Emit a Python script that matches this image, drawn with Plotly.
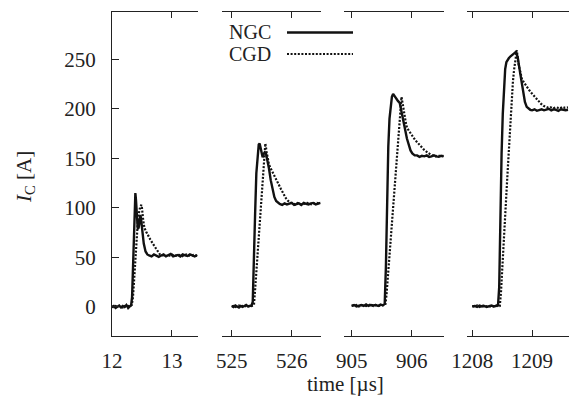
import plotly.graph_objects as go

# ---------------- data ----------------
# panel 1 (around 12 us)
t_ngc1 = [12.00, 12.03, 12.06, 12.09, 12.12, 12.15, 12.18, 12.21, 12.24, 12.27,
          12.30, 12.32, 12.335, 12.35, 12.365, 12.38, 12.39, 12.40, 12.415, 12.43,
          12.445, 12.46, 12.475, 12.49, 12.51, 12.53, 12.56, 12.59, 12.62, 12.66,
          12.70, 12.74, 12.78, 12.82, 12.86, 12.90, 12.94, 12.98, 13.02, 13.06,
          13.10, 13.14, 13.18, 13.22, 13.26, 13.30, 13.34, 13.38, 13.42]
i_ngc1 = [0, 1, -1, 0.5, 1.5, -0.5, 1, 0, 2, -1,
          1, 2, 10, 45, 85, 110, 115, 108, 90, 79,
          80, 90, 93, 86, 74, 64, 56, 53, 52, 51,
          53, 52, 50.5, 52, 53, 51, 52, 53.5, 51, 52,
          52.5, 51, 53, 52, 51.5, 53, 52, 51, 52.5]
t_cgd1 = [12.00, 12.03, 12.06, 12.09, 12.12, 12.15, 12.18, 12.21, 12.24, 12.27,
          12.30, 12.33, 12.35, 12.37, 12.39, 12.41, 12.43, 12.45, 12.47, 12.49,
          12.50, 12.52, 12.54, 12.57, 12.60, 12.64, 12.68, 12.72, 12.76, 12.80,
          12.84, 12.88, 12.92, 12.96, 13.00, 13.04, 13.08, 13.12, 13.16, 13.20,
          13.24, 13.28, 13.32, 13.36, 13.40, 13.43]
i_cgd1 = [0.5, -0.5, 1, 0, 1, 0.5, -0.5, 1, 0, 1,
          0.5, 2, 10, 28, 50, 70, 85, 95, 101, 103,
          100, 88, 80, 76, 72, 68, 64, 60, 56, 53,
          52, 52.5, 51, 52, 53, 51.5, 52, 52.5, 51, 52,
          53, 52, 51.5, 52.5, 52, 51.5]

# panel 2 (around 525 us)
t_ngc2 = [525.00, 525.03, 525.06, 525.09, 525.12, 525.15, 525.18, 525.21, 525.24, 525.27,
          525.30, 525.33, 525.35, 525.37, 525.39, 525.41, 525.43, 525.45, 525.465, 525.48,
          525.50, 525.515, 525.53, 525.55, 525.57, 525.59, 525.62, 525.65, 525.68, 525.71,
          525.74, 525.77, 525.80, 525.84, 525.88, 525.92, 525.96, 526.00, 526.04, 526.08,
          526.12, 526.16, 526.20, 526.24, 526.28, 526.32, 526.36, 526.40, 526.44, 526.48]
i_ngc2 = [1, 0, 1.5, 0.5, -0.5, 1, 0, 1, 2, 0.5,
          1, 1.5, 5, 40, 95, 135, 155, 164, 165, 160,
          153, 151, 154, 156, 155, 150, 140, 128, 118, 111,
          107, 105, 104, 103, 104.5, 103.5, 104, 105, 103, 104,
          104.5, 103, 105, 104, 103.5, 104.5, 105, 103.5, 104, 105]
t_cgd2 = [525.00, 525.03, 525.06, 525.09, 525.12, 525.15, 525.18, 525.21, 525.24, 525.27,
          525.30, 525.33, 525.37, 525.39, 525.41, 525.43, 525.45, 525.47, 525.49, 525.51,
          525.53, 525.545, 525.56, 525.58, 525.60, 525.62, 525.64, 525.67, 525.70, 525.74,
          525.78, 525.82, 525.86, 525.90, 525.94, 525.98, 526.02, 526.06, 526.10, 526.14,
          526.18, 526.22, 526.26, 526.30, 526.34, 526.38, 526.42, 526.47]
i_cgd2 = [0.5, 1, 0, 1, 1.5, 0, 1, 0.5, 1, 0,
          1.5, 1, 2, 18, 36, 54, 72, 90, 108, 126,
          145, 158, 165, 157, 149, 144, 141, 137, 134, 129,
          124, 119, 114, 110, 107, 105, 104.5, 103.5, 105, 104,
          103, 104.5, 105, 104, 103.5, 104.5, 105, 104]

# panel 3 (around 905 us)
t_ngc3 = [905.00, 905.04, 905.08, 905.12, 905.16, 905.20, 905.24, 905.28, 905.32, 905.36,
          905.40, 905.44, 905.48, 905.52, 905.55, 905.57, 905.59, 905.61, 905.63, 905.65,
          905.67, 905.69, 905.71, 905.74, 905.77, 905.80, 905.83, 905.86, 905.89, 905.92,
          905.95, 905.98, 906.01, 906.05, 906.09, 906.13, 906.17, 906.21, 906.25, 906.29,
          906.33, 906.37, 906.41, 906.45, 906.49, 906.53]
i_ngc3 = [1, 2, 0.5, 1.5, 2, 1, 2.5, 1, 2, 1.5,
          2, 1, 2.5, 1.5, 3, 40, 115, 162, 190, 205,
          212, 215, 213, 210, 208, 206, 198, 188, 179, 170,
          163, 158, 155, 153, 153, 151.5, 152.5, 152, 153, 151.5,
          152, 153, 152, 151.5, 152.5, 152]
t_cgd3 = [905.00, 905.04, 905.08, 905.12, 905.16, 905.20, 905.24, 905.28, 905.32, 905.36,
          905.40, 905.44, 905.48, 905.52, 905.56, 905.58, 905.60, 905.62, 905.64, 905.66,
          905.68, 905.70, 905.72, 905.74, 905.76, 905.78, 905.80, 905.815, 905.83, 905.85,
          905.87, 905.89, 905.91, 905.93, 905.96, 906.00, 906.04, 906.08, 906.12, 906.16,
          906.20, 906.24, 906.28, 906.32, 906.36, 906.40, 906.44, 906.48, 906.53]
i_cgd3 = [1.5, 1, 2, 0.5, 1.5, 2, 1, 1.5, 2.5, 1,
          2, 1.5, 1, 2, 2, 12, 28, 44, 60, 76,
          92, 108, 124, 140, 156, 172, 190, 203, 212, 205,
          196, 188, 183, 180, 177, 173, 170, 167, 164, 161,
          159, 157, 155, 153.5, 152.5, 152, 153, 152, 152.5]

# panel 4 (around 1208 us)
t_ngc4 = [1208.00, 1208.04, 1208.08, 1208.12, 1208.16, 1208.20, 1208.24, 1208.28, 1208.32, 1208.36,
          1208.40, 1208.43, 1208.45, 1208.47, 1208.49, 1208.51, 1208.53, 1208.55, 1208.57, 1208.59,
          1208.61, 1208.64, 1208.67, 1208.70, 1208.73, 1208.76, 1208.79, 1208.82, 1208.85, 1208.88,
          1208.91, 1208.94, 1208.97, 1209.00, 1209.04, 1209.08, 1209.12, 1209.16, 1209.20, 1209.24,
          1209.28, 1209.32, 1209.36, 1209.40, 1209.44, 1209.48, 1209.52, 1209.56, 1209.60]
i_ngc4 = [0.5, 1, 0, 1.5, 0.5, 1, 0, 1, 1.5, 0.5,
          1, 1.5, 20, 100, 155, 195, 222, 240, 247, 250,
          251, 253, 255, 256, 257.5, 252, 240, 228, 216, 207,
          202, 200, 199, 198.5, 199.5, 198, 199, 199.5, 198.5, 199,
          200, 198.5, 199.5, 199, 198, 199.5, 199, 198.5, 199]
t_cgd4 = [1208.00, 1208.04, 1208.08, 1208.12, 1208.16, 1208.20, 1208.24, 1208.28, 1208.32, 1208.36,
          1208.40, 1208.44, 1208.46, 1208.48, 1208.50, 1208.52, 1208.54, 1208.56, 1208.58, 1208.60,
          1208.62, 1208.64, 1208.66, 1208.68, 1208.70, 1208.72, 1208.745, 1208.77, 1208.80, 1208.83,
          1208.87, 1208.91, 1208.95, 1208.99, 1209.03, 1209.07, 1209.11, 1209.15, 1209.19, 1209.23,
          1209.27, 1209.31, 1209.35, 1209.39, 1209.43, 1209.47, 1209.51, 1209.55, 1209.60]
i_cgd4 = [1, 0.5, 1.5, 0, 1, 1.5, 0.5, 1, 0, 1,
          1.5, 0.5, 1, 15, 40, 64, 85, 105, 125, 146,
          168, 191, 211, 228, 240, 250, 259, 246, 236, 230,
          226, 222, 219, 216, 213, 210, 207, 205, 203, 202,
          201, 201.5, 200.5, 201.5, 201, 200.5, 202, 201, 201.5]

series_names = ["NGC", "CGD"]
x_ticks = [[12, 13], [525, 526], [905, 906], [1208, 1209]]
x_ranges = [[12.0, 13.44], [524.843, 526.483], [904.877, 906.538], [1207.917, 1209.617]]
y_ticks = [0, 50, 100, 150, 200, 250]
y_range = [-29.3, 297.7]

ngc = [(t_ngc1, i_ngc1), (t_ngc2, i_ngc2), (t_ngc3, i_ngc3), (t_ngc4, i_ngc4)]
cgd = [(t_cgd1, i_cgd1), (t_cgd2, i_cgd2), (t_cgd3, i_cgd3), (t_cgd4, i_cgd4)]
for a, b in ngc + cgd:
    assert len(a) == len(b), (len(a), len(b))

# ---------------- figure ----------------
# The page body has an 8px margin, so the figure is made 8px smaller and
# every reference pixel position is shifted by that offset.
OFF = 8
W, H = 579 - OFF, 405 - OFF
ML, MR, MT, MB = 112 - OFF, 10, 12 - OFF, 69
PW = W - ML - MR
PH = H - MT - MB
domains = [[0.0, 0.1888], [0.2414, 0.4567], [0.5083, 0.7265], [0.7775, 1.0]]

FONT = "Liberation Serif"
FS = 21
INK = "#222222"
fig = go.Figure()

axis_names = ["x", "x2", "x3", "x4"]
for k in range(4):
    fig.add_trace(go.Scatter(x=ngc[k][0], y=ngc[k][1], xaxis=axis_names[k], yaxis="y",
                             mode="lines", line=dict(color="#111111", width=2.4),
                             name=series_names[0], showlegend=False))
    fig.add_trace(go.Scatter(x=cgd[k][0], y=cgd[k][1], xaxis=axis_names[k], yaxis="y",
                             mode="lines", line=dict(color="#111111", width=2.2, dash="2px,1.6px"),
                             name=series_names[1], showlegend=False))

layout = dict(
    template="none",
    width=W, height=H,
    margin=dict(l=ML, r=MR, t=MT, b=MB, autoexpand=False),
    paper_bgcolor="white", plot_bgcolor="white",
    font=dict(family=FONT, size=FS, color=INK),
    showlegend=False,
)
for k in range(4):
    key = "xaxis" if k == 0 else f"xaxis{k+1}"
    layout[key] = dict(
        domain=domains[k], range=x_ranges[k], anchor="y", automargin=False,
        tickvals=x_ticks[k], ticktext=[str(v) for v in x_ticks[k]],
        ticks="inside", ticklen=6, tickwidth=1.2, tickcolor=INK,
        showline=True, linecolor=INK, linewidth=1.3, mirror="ticks",
        showgrid=False, zeroline=False, ticklabelstandoff=6,
        tickfont=dict(family=FONT, size=FS, color=INK),
    )
layout["yaxis"] = dict(
    domain=[0, 1], range=y_range, anchor="x", side="left", automargin=False,
    tickvals=y_ticks, ticks="inside", ticklen=7, tickwidth=1.2, tickcolor=INK,
    showline=True, linecolor=INK, linewidth=1.3,
    showgrid=False, zeroline=False, ticklabelstandoff=11,
    tickfont=dict(family=FONT, size=FS, color=INK),
)
layout["yaxis2"] = dict(
    domain=[0, 1], range=y_range, anchor="x4", side="right", overlaying="y", automargin=False,
    tickvals=y_ticks, ticks="inside", ticklen=7, tickwidth=1.2, tickcolor=INK,
    showline=True, linecolor=INK, linewidth=1.3, showticklabels=False,
    showgrid=False, zeroline=False,
)
fig.update_layout(**layout)

def px_x(p):
    return (p - OFF - ML) / PW

def px_y(p):
    return (H - MB - (p - OFF)) / PH

# axis titles
fig.add_annotation(text="time [µs]", xref="paper", yref="paper",
                   x=px_x(345), y=px_y(384), xanchor="center", yanchor="middle",
                   showarrow=False, font=dict(size=FS, family=FONT, color=INK))
fig.add_annotation(text="<i>I</i><sub>C</sub> [A]", xref="paper", yref="paper",
                   x=px_x(25), y=px_y(177), xanchor="center", yanchor="middle",
                   textangle=-90, showarrow=False, font=dict(size=FS, family=FONT, color=INK))

# legend (text left of key, as in the reference)
LFS = 20
for j, (name, yy, dash, wid) in enumerate([("NGC", 32.5, "solid", 2.4), ("CGD", 54, "2px,1.6px", 2.2)]):
    fig.add_annotation(text=name, xref="paper", yref="paper",
                       x=px_x(272), y=px_y(yy), xanchor="right", yanchor="middle",
                       showarrow=False, borderpad=0,
                       font=dict(size=LFS, family=FONT, color=INK))
    fig.add_shape(type="line", xref="paper", yref="paper",
                  x0=px_x(287), x1=px_x(353), y0=px_y(yy), y1=px_y(yy),
                  line=dict(color="#111111", width=wid, dash=dash))

fig.write_html("out.html")
